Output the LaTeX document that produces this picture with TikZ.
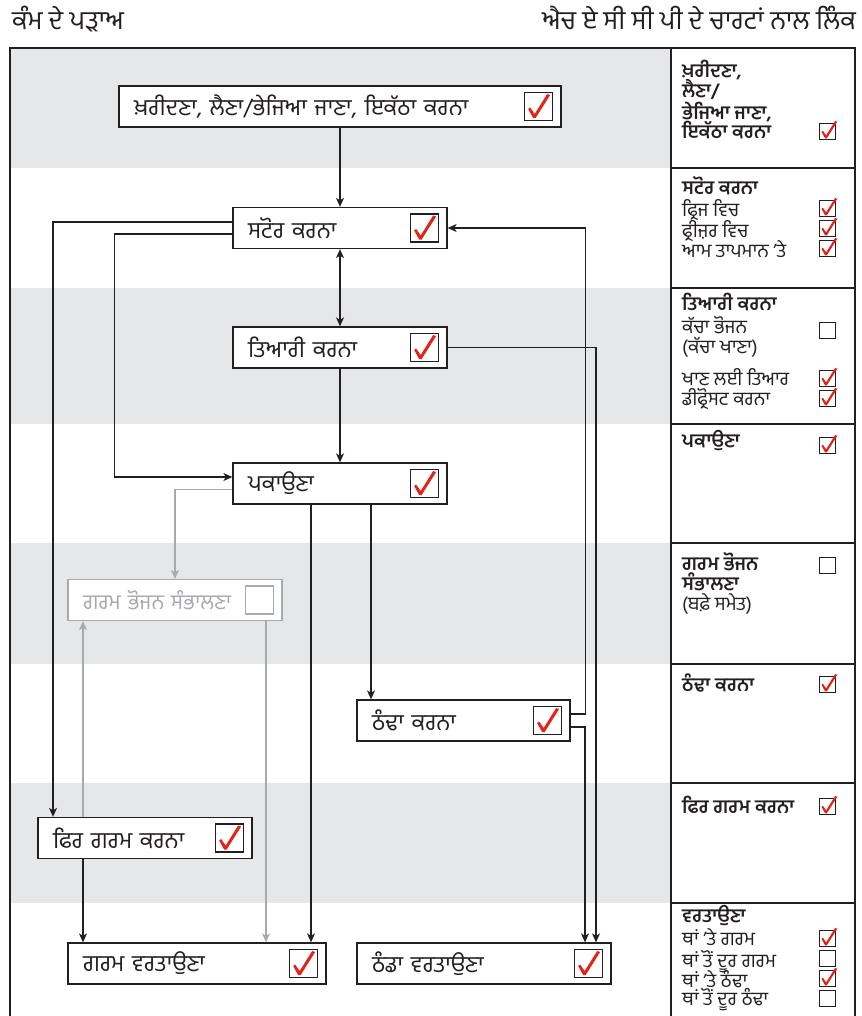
\documentclass[tikz,border=0pt]{standalone}
\usepackage{fontspec}
\newfontfamily\pa[Script=Gurmukhi]{Hind Jalandhar}
\usetikzlibrary{arrows.meta,positioning}
\definecolor{band}{HTML}{E6E7E8}
\definecolor{ink}{HTML}{231F20}
\definecolor{faded}{HTML}{A7A9AC}
\definecolor{tickred}{HTML}{E2231A}
\tikzset{stage/.style={rectangle,draw=ink,fill=white,line width=1.3pt,minimum height=41pt,inner xsep=15pt,align=left,text=ink,font=\pa\fontsize{23}{25}\selectfont},
         tick box/.style={rectangle,draw=ink,fill=white,line width=1.2pt,minimum size=28pt,inner sep=0pt},
         small box/.style={rectangle,draw=ink,fill=white,line width=1pt,minimum size=16pt,inner sep=0pt,anchor=south},
         tickmark/.pic={\fill[tickred] (-10.5,2.5) -- (-8.5,1) -- (-4,7.5) -- (8.5,-12.5) -- (11.5,-11.5) -- (-3,11.5) -- (-5.5,11.5) -- cycle;},
         flow/.style={->,draw=ink,line width=1.2pt},
         faded flow/.style={->,draw=faded,line width=1.2pt},
         col head/.style={anchor=base west,inner sep=0pt,text=ink,font=\pa\bfseries\fontsize{19}{20}\selectfont},
         col item/.style={anchor=base west,inner sep=0pt,text=ink,font=\pa\fontsize{19}{20}\selectfont},
         page head/.style={inner sep=0pt,text=ink,font=\pa\fontsize{26}{28}\selectfont},
}

\begin{document}
\begin{tikzpicture}[x=1pt,y=-1pt,>={Stealth[length=9pt,width=8pt,inset=2.5pt]}]
\useasboundingbox (0,0) rectangle (861,1016);
\clip (0,0) rectangle (861,1016);
% bands and frame
\foreach \t/\b in {48/168, 288/424, 543/664, 783/903}
    \fill[band] (10,\t) rectangle (671,\b);
\draw[ink,line width=1.3pt] (10,48) rectangle (855,1040);
\draw[ink,line width=1.3pt] (671,48) -- (671,1040);
\foreach \y in {168,288,424,543,664,783,903}
    \draw[ink,line width=1.2pt] (671,\y) -- (855,\y);

\node[page head,anchor=base west] (title) at (12,30) {ਕੰਮ ਦੇ ਪੜਾਅ};
\node[page head,anchor=base east] (link) at (856,30) {ਐਚ ਏ ਸੀ ਸੀ ਪੀ ਦੇ ਚਾਰਟਾਂ ਨਾਲ ਲਿੰਕ};

% stages
\node[stage,text width=412pt] (buy) at (340,106.5) {ਖ਼ਰੀਦਣਾ, ਲੈਣਾ/ਭੇਜਿਆ ਜਾਣਾ, ਇਕੱਠਾ ਕਰਨਾ};
\node[stage,text width=184pt] (store) at (340,228) {ਸਟੋਰ ਕਰਨਾ};
\node[stage,text width=184pt] (prep) at (340,347.5) {ਤਿਆਰੀ ਕਰਨਾ};
\node[stage,text width=184pt] (cook) at (340,483.5) {ਪਕਾਉਣਾ};
\node[stage,text width=184pt,draw=faded,text=faded,font=\pa\fontsize{21}{23}\selectfont] (hothold) at (175,600) {ਗਰਮ ਭੋਜਨ ਸੰਭਾਲਣਾ};
\node[stage,text width=183pt] (cool) at (463.5,720.5) {ਠੰਢਾ ਕਰਨਾ};
\node[stage,text width=184pt] (reheat) at (145,838) {ਫਿਰ ਗਰਮ ਕਰਨਾ};
\node[stage,text width=228pt] (hotserve) at (197,963.5) {ਗਰਮ ਵਰਤਾਉਣਾ};
\node[stage,text width=224pt] (coldserve) at (484,963.5) {ਠੰਡਾ ਵਰਤਾਉਣਾ};

\foreach \n in {buy,store,prep,cook,cool,reheat,hotserve,coldserve}{
    \node[tick box] (\n-box) at ([xshift=-23pt]\n.east) {};
    \pic at (\n-box) {tickmark};
}
\node[tick box,draw=faded] (hothold-box) at ([xshift=-23pt]hothold.east) {};

% connectors
\draw[flow] (buy) -- (store);
\draw[flow,<->] (store) -- (prep);
\draw[flow] (prep) -- (cook);
\draw[flow] ([yshift=6pt]store.west) -| ([xshift=-92pt]reheat.north);
\draw[flow] ([yshift=-6pt]store.west) -- ++(-118,0) |- ([yshift=6.5pt]cook.west);
\draw[faded flow] ([yshift=-6pt]cook.west) -| (hothold.north);
\draw[faded flow] ([xshift=-62pt]reheat.north) -- ([xshift=-62pt]reheat.north |- hothold.south);
\draw[faded flow] ([xshift=91pt]hothold.south) -- ([xshift=91pt]hothold.south |- hotserve.north);
\draw[flow] ([xshift=-62pt]reheat.south) -- ([xshift=-62pt]reheat.south |- hotserve.north);
\draw[flow] ([xshift=-29pt]cook.south) -- ([xshift=-29pt]cook.south |- hotserve.north);
\draw[flow] ([xshift=31pt]cook.south) -- ([xshift=31pt]cook.south |- cool.north);
\draw[flow] (prep.east) -| ([xshift=112pt]coldserve.north);
\draw[flow] ([yshift=6.5pt]cool.east) -- ++(15,0) |- (store.east);
\draw[flow] ([yshift=-6.5pt]cool.east) -| ([xshift=101pt]coldserve.north);

% link column
\foreach \y/\t in {78/{ਖ਼ਰੀਦਣਾ,}, 98/{ਲੈਣਾ/}, 120/{ਭੇਜਿਆ ਜਾਣਾ,}, 139/{ਇਕੱਠਾ ਕਰਨਾ}, 195/{ਸਟੋਰ ਕਰਨਾ}, 310/{ਤਿਆਰੀ ਕਰਨਾ}, 447/{ਪਕਾਉਣਾ}, 570/{ਗਰਮ ਭੋਜਨ}, 590/{ਸੰਭਾਲਣਾ}, 691/{ਠੰਢਾ ਕਰਨਾ}, 813/{ਫਿਰ ਗਰਮ ਕਰਨਾ}, 922/{ਵਰਤਾਉਣਾ}}
    \node[col head] (head-\y) at (682,\y) {\t};
\foreach \y/\t in {217/{ਫ੍ਰਿਜ ਵਿਚ}, 237/{ਫ੍ਰੀਜ਼ਰ ਵਿਚ}, 258/{ਆਮ ਤਾਪਮਾਨ ’ਤੇ}, 333/{ਕੱਚਾ ਭੋਜਨ}, 353/{(ਕੱਚਾ ਖਾਣਾ)}, 385/{ਖਾਣ ਲਈ ਤਿਆਰ}, 405/{ਡੀਫ੍ਰੋਸਟ ਕਰਨਾ}, 610/{(ਬਫ਼ੇ ਸਮੇਤ)}, 945/{ਥਾਂ ’ਤੇ ਗਰਮ}, 967/{ਥਾਂ ਤੋਂ ਦੂਰ ਗਰਮ}, 987/{ਥਾਂ ’ਤੇ ਠੰਢਾ}, 1005/{ਥਾਂ ਤੋਂ ਦੂਰ ਠੰਢਾ}}
    \node[col item] (item-\y) at (682,\y) {\t};
\foreach \y in {140,217,237,257,387,407,454,693,815,947,987}{
    \node[small box] (sbox-\y) at (827.5,\y) {};
    \pic[scale=0.72] at ([xshift=1.5pt,yshift=1.5pt]sbox-\y) {tickmark};
}
\foreach \y in {339,574,967,1007}
    \node[small box] (ebox-\y) at (827.5,\y) {};
\end{tikzpicture}
\end{document}
